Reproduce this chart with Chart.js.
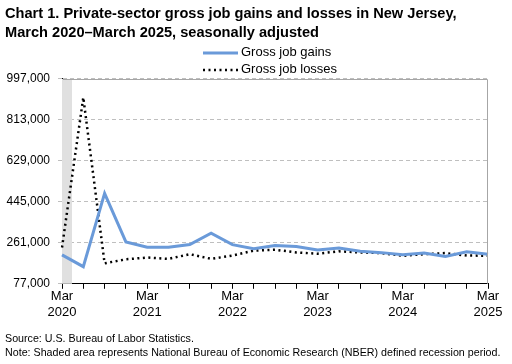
<!DOCTYPE html>
<html>
<head>
<meta charset="utf-8">
<script src="https://cdn.jsdelivr.net/npm/chart.js@4"></script>
<style>
  body { margin: 0; background: #fff; }
  #wrap { position: relative; width: 512px; height: 364px; }
  #legend { position: absolute; left: 203px; top: 43px; font: 13px "Liberation Sans", Arial, sans-serif; color: #000; }
  #legend div { height: 17px; line-height: 17px; white-space: nowrap; }
  #legend svg { vertical-align: middle; margin-right: 3px; }
  #notes { position: absolute; left: 5px; top: 331px; font: 10.7px "Liberation Sans", Arial, sans-serif; line-height: 14px; color: #000; white-space: nowrap; }
</style>
</head>
<body>
<div id="wrap">
  <canvas id="chart" width="512" height="364"></canvas>
  <div id="legend"></div>
  <div id="notes">Source: U.S. Bureau of Labor Statistics.<br>Note: Shaded area represents National Bureau of Economic Research (NBER) defined recession period.</div>
</div>
<script>
// quarterly points, March 2020 - March 2025
var quarters = ["Mar 2020","Jun 2020","Sep 2020","Dec 2020","Mar 2021","Jun 2021","Sep 2021","Dec 2021",
  "Mar 2022","Jun 2022","Sep 2022","Dec 2022","Mar 2023","Jun 2023","Sep 2023","Dec 2023",
  "Mar 2024","Jun 2024","Sep 2024","Dec 2024","Mar 2025"];
var tickLabels = [["Mar","2020"],"","","",["Mar","2021"],"","","",["Mar","2022"],"","","",
  ["Mar","2023"],"","","",["Mar","2024"],"","","",["Mar","2025"]];
var gains = [207000,154000,483000,265000,241000,241000,253000,304000,253000,235000,249000,244000,
  229000,238000,223000,217000,207000,215000,200000,221000,210000];
var losses = [240000,914000,169000,187000,195000,189000,210000,189000,204000,226000,230000,218000,
  212000,223000,218000,215000,203000,210000,215000,204000,203000];
var yTicks = [77000,261000,445000,629000,813000,997000];
// recession: March 2020 to April 2020, in quarter-index units
var recessionStart = 0, recessionEnd = 0.47;

var fontFamily = '"Liberation Sans", Arial, sans-serif';
var gainColor = "#6A9AD9";

var shade = {
  id: "shade",
  beforeDatasetsDraw: function(chart) {
    var x = chart.scales.x, a = chart.chartArea, ctx = chart.ctx;
    var x0 = x.getPixelForValue(0), step = x.getPixelForValue(1) - x0;
    ctx.save();
    ctx.fillStyle = "#e0e0e0";
    ctx.fillRect(x0 + recessionStart * step, a.top, (recessionEnd - recessionStart) * step, a.bottom - a.top);
    ctx.restore();
  },
  afterDatasetsDraw: function(chart) {
    var a = chart.chartArea, ctx = chart.ctx;
    var top = chart.scales.y.getPixelForValue(yTicks[yTicks.length - 1]);
    var right = chart.scales.x.getPixelForValue(quarters.length - 1);
    ctx.save();
    ctx.strokeStyle = "#a6a6a6";
    ctx.lineWidth = 1;
    ctx.beginPath();
    ctx.moveTo(a.left + 1, Math.round(top) + 0.5);
    ctx.lineTo(Math.round(right) - 0.5, Math.round(top) + 0.5);
    ctx.lineTo(Math.round(right) - 0.5, a.bottom);
    ctx.stroke();
    ctx.restore();
  }
};

var chart = new Chart(document.getElementById("chart"), {
  type: "line",
  data: {
    labels: tickLabels,
    datasets: [
      {
        label: "Gross job gains",
        data: gains,
        borderColor: gainColor,
        borderWidth: 3,
        pointRadius: 0,
        tension: 0,
        fill: false
      },
      {
        label: "Gross job losses",
        data: losses,
        borderColor: "#000",
        borderWidth: 2.5,
        borderDash: [2, 3.5],
        pointRadius: 0,
        tension: 0,
        fill: false
      }
    ]
  },
  options: {
    responsive: false,
    animation: false,
    layout: { padding: { left: 5, right: 24, top: 4, bottom: 44 } },
    plugins: {
      legend: { display: false },
      tooltip: { enabled: false },
      title: {
        display: true,
        align: "start",
        text: ["Chart 1. Private-sector gross job gains and losses in New Jersey,", "March 2020\u2013March 2025, seasonally adjusted"],
        color: "#000",
        font: { family: fontFamily, size: 14.6, weight: "bold", lineHeight: 1.3 },
        padding: { top: 0, bottom: 37 }
      }
    },
    scales: {
      x: {
        type: "category",
        offset: false,
        grid: { display: true, drawOnChartArea: false, drawTicks: true, tickLength: 5, color: "#000" },
        border: { color: "#000", width: 1 },
        ticks: { autoSkip: false, maxRotation: 0, color: "#000", padding: 0, font: { family: fontFamily, size: 13, lineHeight: 1.2 } }
      },
      y: {
        min: 77000,
        max: 997000,
        afterBuildTicks: function(scale) { scale.ticks = yTicks.map(function(v) { return { value: v }; }); },
        afterFit: function(scale) { scale.width = 57; },
        grid: { color: "#bfbfbf", tickLength: 4, drawTicks: true },
        border: { color: "#000", width: 1, dash: [4, 3] },
        ticks: {
          color: "#000",
          padding: 8,
          font: { family: fontFamily, size: 12 },
          callback: function(v) { return v.toLocaleString("en-US"); }
        }
      }
    }
  },
  plugins: [shade]
});

// legend built from the datasets
var legend = document.getElementById("legend");
chart.data.datasets.forEach(function(ds) {
  var row = document.createElement("div");
  var dash = ds.borderDash ? ' stroke-dasharray="' + ds.borderDash.join(",") + '"' : "";
  row.innerHTML = '<svg width="35" height="6"><line x1="0" y1="3" x2="35" y2="3" stroke="' + ds.borderColor +
    '" stroke-width="' + ds.borderWidth + '"' + dash + '/></svg>' + ds.label;
  legend.appendChild(row);
});
</script>
</body>
</html>
